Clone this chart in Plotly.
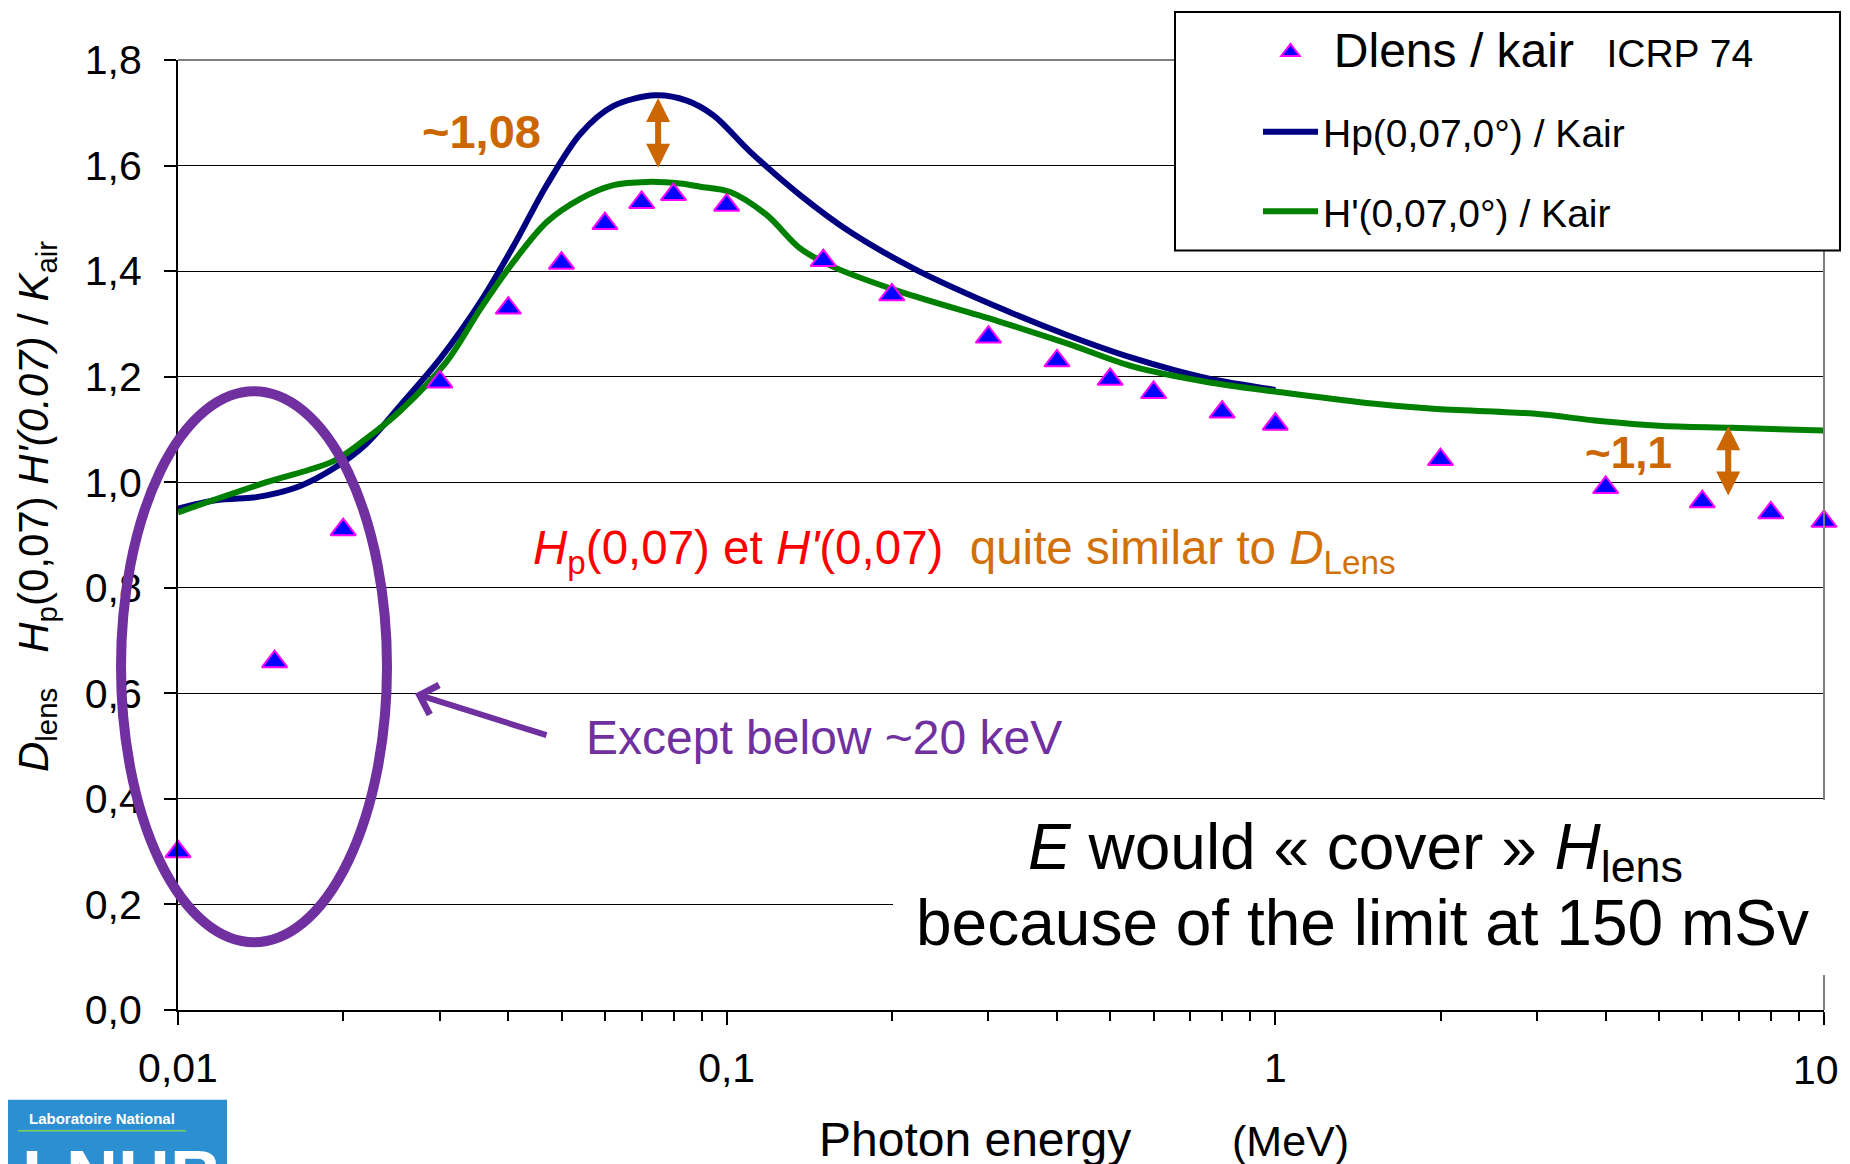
import numpy as np
import plotly.graph_objects as go

# ---------------- data ----------------
energy_pts = [0.01, 0.015, 0.02, 0.03, 0.04, 0.05, 0.06, 0.07, 0.08, 0.1, 0.15, 0.2,
              0.3, 0.4, 0.5, 0.6, 0.8, 1, 2, 4, 6, 8, 10]
dlens_kair = [0.30, 0.66, 0.91, 1.19, 1.33, 1.415, 1.49, 1.53, 1.545, 1.525, 1.42, 1.355,
              1.275, 1.23, 1.195, 1.17, 1.133, 1.11, 1.043, 0.99, 0.963, 0.942, 0.926]

hp_energy = [0.01, 0.0117, 0.0137, 0.0145, 0.0167, 0.0192, 0.022, 0.0254, 0.0301, 0.0356,
             0.0409, 0.047, 0.0541, 0.0622, 0.0741, 0.0846, 0.0946, 0.1104, 0.1361, 0.168,
             0.222, 0.315, 0.417, 0.551, 0.75, 1.0]
hp_kair = [0.950, 0.966, 0.971, 0.975, 0.993, 1.026, 1.072, 1.145, 1.235, 1.342,
           1.448, 1.563, 1.660, 1.713, 1.733, 1.723, 1.695, 1.626, 1.544, 1.474,
           1.402, 1.330, 1.279, 1.235, 1.197, 1.175]

hprime_energy = [0.01, 0.0145, 0.0192, 0.022, 0.0254, 0.0309, 0.0356, 0.0409, 0.047, 0.0541,
                 0.0622, 0.0716, 0.0823, 0.0895, 0.1015, 0.1184, 0.1361, 0.1565, 0.207,
                 0.315, 0.417, 0.551, 0.75, 1.013, 1.467, 1.94, 2.95, 3.9, 5.0, 6.8, 10]
hprime_kair = [0.943, 1.000, 1.040, 1.082, 1.135, 1.229, 1.329, 1.418, 1.493, 1.537,
               1.563, 1.569, 1.566, 1.560, 1.550, 1.506, 1.443, 1.408, 1.361,
               1.304, 1.263, 1.219, 1.190, 1.171, 1.150, 1.139, 1.130, 1.116, 1.107, 1.103, 1.098]

y_tickvals = [0, 0.2, 0.4, 0.6, 0.8, 1.0, 1.2, 1.4, 1.6, 1.8]
y_ticktext = ["0,0", "0,2", "0,4", "0,6", "0,8", "1,0", "1,2", "1,4", "1,6", "1,8"]
x_tickvals = [0.01, 0.1, 1, 10]
x_ticktext = ["0,01", "0,1", "1", ""]      # last label drawn separately so it stays visible
x_last_label = "10"

# annotation arrows (energy, y_top, y_bottom)
arrow_peak = (0.075, 1.728, 1.593)
arrow_high = (6.69, 1.106, 0.972)

# ---------------- geometry helpers (screen pixels) ----------------
FIG_W, FIG_H = 1850, 1164
OFF = 8                      # page body margin of the html
L, R, T, B = 178, 1824, 58, 1010
PW, PH = R - L, B - T


def px(x):
    return (x - L) / PW


def py(y):
    return (B - y) / PH


FONT = "Liberation Sans, Arial, sans-serif"
ORANGE = "#CC6600"
PURPLE = "#7030A0"

fig = go.Figure()

fig.add_trace(go.Scatter(
    x=hp_energy, y=hp_kair, mode="lines", name="Hp(0,07,0°) / Kair",
    line=dict(color="#000080", width=6, shape="spline", smoothing=0.9),
    legendgroup="b", legendrank=2, cliponaxis=False))
fig.add_trace(go.Scatter(
    x=hprime_energy, y=hprime_kair, mode="lines", name="H'(0,07,0°) / Kair",
    line=dict(color="#008000", width=6, shape="spline", smoothing=0.9),
    legendgroup="c", legendrank=3, cliponaxis=False))
fig.add_trace(go.Scatter(
    x=energy_pts, y=dlens_kair, mode="markers",
    name="\u00a0<span style='font-size:48px'>Dlens / kair</span>\u00a0\u00a0\u00a0"
         "<span style='font-size:39px'>ICRP 74</span>",
    marker=dict(symbol="triangle-up", size=22, color="#0000FF",
                line=dict(color="#FF00FF", width=2)),
    legendgroup="a", legendrank=1, cliponaxis=False))

shapes = [
    dict(type="line", xref="paper", yref="paper", x0=0, x1=1, y0=1, y1=1,
         line=dict(color="#808080", width=2), layer="above"),
    dict(type="line", xref="paper", yref="paper", x0=1, x1=1, y0=0, y1=1,
         line=dict(color="#808080", width=2), layer="above"),
    dict(type="circle", xref="paper", yref="paper",
         x0=px(121), x1=px(387), y0=py(942), y1=py(390),
         line=dict(color=PURPLE, width=10), layer="above"),
    dict(type="rect", xref="paper", yref="paper",
         x0=px(893), x1=px(1860), y0=py(975), y1=py(799.5),
         fillcolor="white", line=dict(width=0), layer="above"),
    dict(type="rect", xref="paper", yref="paper",
         x0=px(1175), x1=px(1840), y0=py(249), y1=py(10),
         fillcolor="white", line=dict(color="black", width=2), layer="above"),
    dict(type="rect", xref="paper", yref="paper",
         x0=px(0), x1=px(227), y0=py(1170), y1=py(1100),
         fillcolor="#2B8FD2", line=dict(width=0), layer="above"),
    dict(type="line", xref="paper", yref="paper",
         x0=px(18), x1=px(186), y0=py(1131), y1=py(1131),
         line=dict(color="#7FD35A", width=1.5), layer="above"),
]

ann = []
ann.append(dict(text="<b>~1,08</b>", x=px(481), y=py(130), xref="paper", yref="paper",
                xanchor="center", yanchor="middle",
                showarrow=False, font=dict(family=FONT, size=47, color=ORANGE)))
ann.append(dict(text="<b>~1,1</b>", x=px(1628), y=py(451), xref="paper", yref="paper",
                xanchor="center", yanchor="middle",
                showarrow=False, font=dict(family=FONT, size=44, color=ORANGE)))
for (e, ytop, ybot) in (arrow_peak, arrow_high):
    ann.append(dict(text="", x=np.log10(e), y=ytop, ax=np.log10(e), ay=ybot,
                    xref="x", yref="y", axref="x", ayref="y", showarrow=True,
                    arrowhead=2, startarrowhead=2, arrowside="end+start",
                    arrowsize=0.8, startarrowsize=0.8, arrowwidth=6,
                    arrowcolor=ORANGE, standoff=0, startstandoff=0))
ann.append(dict(
    text="<span style='color:#FF0000'><i>H</i><sub>p</sub>(0,07) et <i>H'</i>(0,07)</span>"
         "\u00a0\u00a0<span style='color:#D2700A'>quite similar to <i>D</i><sub>Lens</sub></span>",
    x=px(531), y=py(550), xref="paper", yref="paper", xanchor="left", yanchor="middle",
    showarrow=False, font=dict(family=FONT, size=47.5)))
ann.append(dict(text="Except below ~20 keV", x=px(584), y=py(737), xref="paper", yref="paper",
                xanchor="left", yanchor="middle", showarrow=False,
                font=dict(family=FONT, size=48, color=PURPLE)))
ann.append(dict(text="", x=px(415), y=py(693), xref="paper", yref="paper",
                ax=133, ay=42, showarrow=True, arrowhead=4, arrowsize=1,
                arrowwidth=6, arrowcolor=PURPLE, standoff=0))
ann.append(dict(text="<i>E</i> would « cover » <i>H</i><sub>lens</sub>",
                x=px(1355), y=py(851), xref="paper", yref="paper",
                xanchor="center", yanchor="middle", showarrow=False,
                font=dict(family=FONT, size=64, color="black")))
ann.append(dict(text="because of the limit at 150 mSv",
                x=px(1362), y=py(923), xref="paper", yref="paper",
                xanchor="center", yanchor="middle", showarrow=False,
                font=dict(family=FONT, size=64, color="black")))
ann.append(dict(text="<i>D</i><sub>lens</sub>\u00a0\u00a0\u00a0<i>H</i><sub>p</sub>(0,07) <i>H'(0.07)</i> / <i>K</i><sub>air</sub>",
                x=px(36), y=py(506), xref="paper", yref="paper", textangle=-90,
                xanchor="center", yanchor="middle", showarrow=False,
                font=dict(family=FONT, size=42, color="black")))
# last x tick label, kept inside the visible page
ann.append(dict(text=x_last_label, x=px(1841), y=py(1070), xref="paper", yref="paper",
                xanchor="right", yanchor="middle", showarrow=False,
                font=dict(family=FONT, size=41, color="black")))
ann.append(dict(text="Photon energy", x=px(975), y=py(1140), xref="paper", yref="paper",
                xanchor="center", yanchor="middle", showarrow=False,
                font=dict(family=FONT, size=48, color="black")))
ann.append(dict(text="(MeV)", x=px(1290), y=py(1141), xref="paper", yref="paper",
                xanchor="center", yanchor="middle", showarrow=False,
                font=dict(family=FONT, size=43, color="black")))
ann.append(dict(text="<b>Laboratoire National</b>", x=px(102), y=py(1119), xref="paper", yref="paper",
                xanchor="center", yanchor="middle", showarrow=False,
                font=dict(family=FONT, size=15, color="white")))
ann.append(dict(text="<b>LNHB</b>", x=px(20), y=py(1134), xref="paper", yref="paper",
                xanchor="left", yanchor="top", showarrow=False,
                font=dict(family=FONT, size=72, color="white")))

fig.update_layout(
    width=FIG_W, height=FIG_H,
    margin=dict(l=L - OFF, r=FIG_W - (R - OFF), t=T - OFF, b=FIG_H - (B - OFF), pad=0),
    paper_bgcolor="white", plot_bgcolor="white",
    font=dict(family=FONT, size=41, color="black"),
    showlegend=True,
    legend=dict(x=px(1258), y=py(18), xanchor="left", yanchor="top",
                bgcolor="rgba(0,0,0,0)", borderwidth=0, traceorder="grouped",
                tracegroupgap=26, itemwidth=55,
                font=dict(family=FONT, size=39, color="black")),
    xaxis=dict(type="log", range=[-2, 1], showgrid=False, zeroline=False,
               showline=True, linecolor="black", linewidth=2, automargin=False,
               ticks="outside", ticklen=13, tickwidth=1.5, tickcolor="black",
               tickvals=x_tickvals, ticktext=x_ticktext, ticklabelstandoff=8,
               tickfont=dict(family=FONT, size=41, color="black"),
               minor=dict(ticks="outside", ticklen=9, tickwidth=1.5, tickcolor="black",
                          dtick="D1", showgrid=False)),
    xaxis2=dict(type="log", range=[-2, 1], overlaying="x", anchor="y", side="bottom",
                showgrid=False, zeroline=False, showline=False, automargin=False,
                ticks="inside", ticklen=12, tickwidth=1.5, tickcolor="black",
                tickvals=x_tickvals, showticklabels=False),
    yaxis=dict(range=[0, 1.8], showgrid=True, gridcolor="black", gridwidth=1.3,
               zeroline=False, showline=True, linecolor="black", linewidth=2,
               automargin=False,
               ticks="outside", ticklen=12, tickwidth=1.5, tickcolor="black",
               tickvals=y_tickvals, ticktext=y_ticktext, ticklabelstandoff=14,
               tickfont=dict(family=FONT, size=41, color="black")),
    shapes=shapes,
    annotations=ann,
)

fig.write_html("out.html")
